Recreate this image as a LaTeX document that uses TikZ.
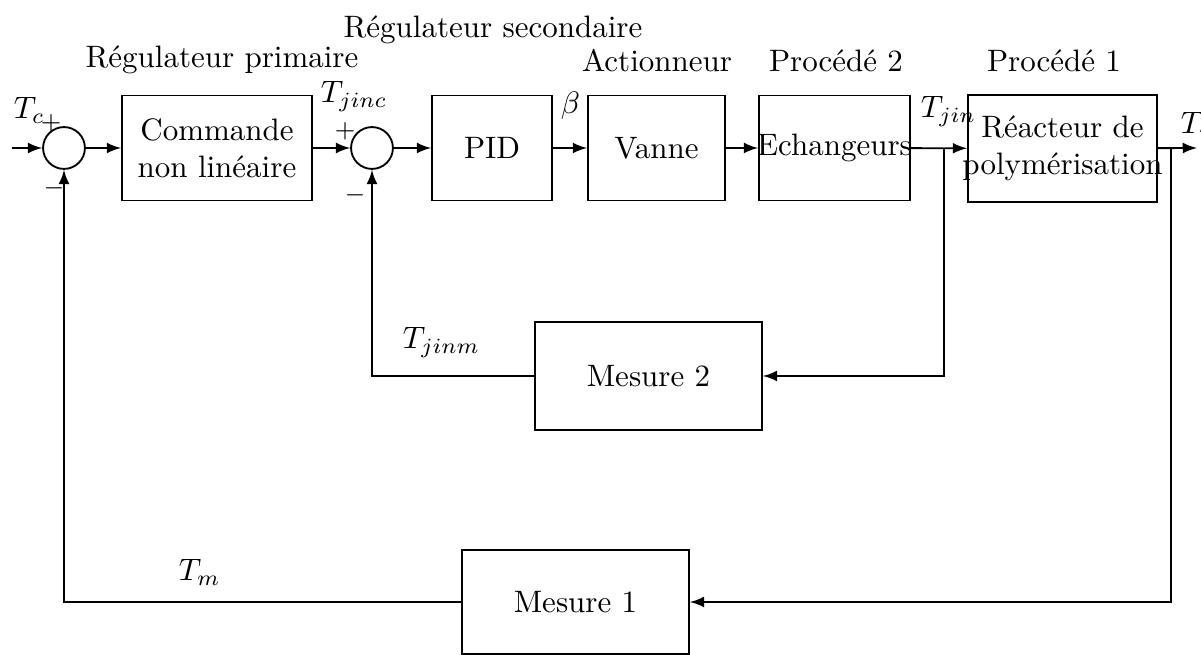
\documentclass[tikz,border=0pt]{standalone}
\usepackage{tikz}
\usepackage{amsmath}
\tikzset{
  blk/.style={draw, inner sep=0pt, minimum height=33.9pt, align=center},
  sumc/.style={draw, circle, inner sep=0pt, minimum size=13.5pt},
  sgn/.style={inner sep=0pt, font=\footnotesize},
  lbl/.style={anchor=base west, inner sep=0pt},
  title/.style={anchor=base, inner sep=0pt},
}

\begin{document}
\begin{tikzpicture}[x=0.3226pt, y=-0.3226pt, semithick, >=latex]
    \useasboundingbox (0,0) rectangle (1201,655);

    %% Summing junctions
    \node[sumc] (s1) at (64,148) {};
    \node[sumc] (s2) at (372,148) {};

    %% Forward path
    \node[blk, minimum width=61.3pt] (cmd) at (217,148) {Commande\\non linéaire};
    \node[blk, minimum width=38.7pt] (pid) at (492,148) {PID};
    \node[blk, minimum width=44.2pt] (van) at (656.5,148) {Vanne};
    \node[blk, minimum width=48.7pt] (ech) at (834.5,148) {\makebox[48.7pt]{Echangeurs}};
    \node[blk, minimum width=61pt, minimum height=34.5pt] (reac) at (1062.5,148.5)
        {\makebox[61pt]{\begin{tabular}{@{}c@{}}Réacteur de\\polymérisation\end{tabular}}};

    %% Measurement blocks
    \node[blk, minimum width=73.2pt, minimum height=34.8pt] (mes2) at (648.5,376) {Mesure 2};
    \node[blk, minimum width=73.2pt, minimum height=33.5pt] (mes1) at (575.5,602) {Mesure 1};

    %% Free ends and branch points
    \coordinate (in)  at (12,148);
    \coordinate (out) at (1197,148);
    \coordinate (b2)  at (944,148);
    \coordinate (b1)  at (1171,148);

    %% Connections
    \draw[->] (in) -- (s1);
    \draw[->] (s1) -- (cmd);
    \draw[->] (cmd) -- (s2);
    \draw[->] (s2) -- (pid);
    \draw[->] (pid) -- (van);
    \draw[->] (van) -- (ech);
    \draw[->] (ech) -- (reac);
    \draw[->] (reac) -- (out);
    \draw[->] (b2) |- (mes2);
    \draw[->] (mes2) -| (s2);
    \draw[->] (b1) |- (mes1);
    \draw[->] (mes1) -| (s1);

    %% Signal names and signs
    \node[lbl] (tc) at (13,119) {$T_c$};
    \node[sgn] (p1) at (51,123) {$+$};
    \node[sgn] (m1) at (54,188) {$-$};
    \node[lbl] (tjinc) at (320,103) {$T_{jinc}$};
    \node[sgn] (p2) at (345,131) {$+$};
    \node[sgn] (m2) at (355,195) {$-$};
    \node[lbl] (beta) at (560,114) {$\beta$};
    \node[lbl] (tjin) at (920,118) {$T_{jin}$};
    \node[lbl] (tr) at (1180,134) {$T_r$};
    \node[lbl] (tjinm) at (402,349) {$T_{jinm}$};
    \node[lbl] (tm) at (178,581) {$T_m$};

    %% Captions above the blocks
    \node[title] (rsec) at (493,38) {Régulateur secondaire};
    \node[title] (rprim) at (222,68) {Régulateur primaire};
    \node[title] (act) at (657,72) {Actionneur};
    \node[title] (proc2) at (836,72) {Procédé 2};
    \node[title] (proc1) at (1054,72) {Procédé 1};

\end{tikzpicture}
\end{document}
